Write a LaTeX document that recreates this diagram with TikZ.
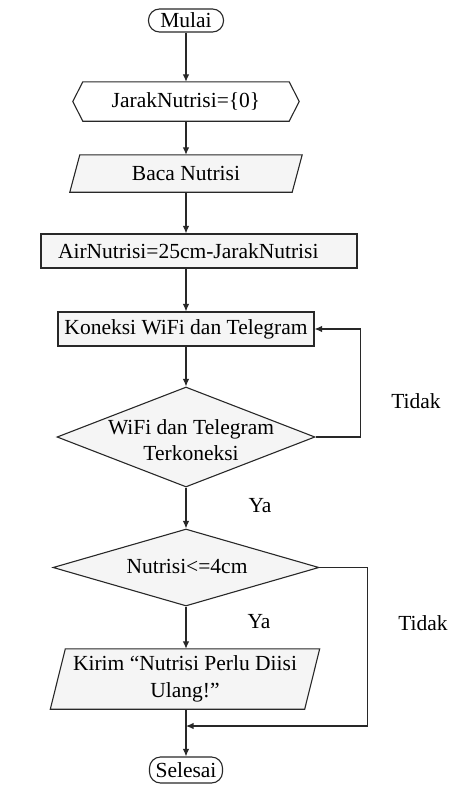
\documentclass[tikz,border=0pt]{standalone}
\usepackage{fontspec}
\setmainfont{Liberation Serif}
\usetikzlibrary{arrows.meta,shapes.geometric,backgrounds}
\definecolor{boxgray}{RGB}{245,245,245}
\definecolor{ink}{RGB}{40,40,40}
\begin{document}
\begin{tikzpicture}[x=1pt,y=-1pt,
  font=\fontsize{21.5}{26.5}\selectfont,
  outline/.style={draw=ink, line width=1.1pt},
  graybg/.style={fill=boxgray},
  term/.style={outline, fill=white, rounded corners=11pt, inner sep=0pt},
  plainbox/.style={inner sep=0pt, align=center},
  proc/.style={outline, graybg, inner sep=0pt},
  decision/.style={diamond, outline, graybg, inner sep=0pt},
  arr/.style={draw=ink, line width=1.1pt, -{Latex[length=7.5pt,width=6.5pt]}},
  link/.style={draw=ink, line width=1.1pt}
]
\useasboundingbox (0,0) rectangle (458,785);

% --- nodes ---
\node[term, minimum width=75pt, minimum height=23pt] (mulai) at (186,20.5) {Mulai};
\node[plainbox, minimum width=226pt, minimum height=39pt] (jarak) at (186,101.5) {JarakNutrisi=\{0\}};
\node[plainbox, minimum width=232pt, minimum height=37pt] (baca) at (186,173.5) {Baca Nutrisi};
\node[proc, minimum width=316pt, minimum height=34pt, text width=282pt,
      align=left, inner xsep=17pt] (air) at (199,251) {AirNutrisi=25cm-JarakNutrisi};
\node[proc, minimum width=256pt, minimum height=34pt] (kon) at (186,329) {Koneksi WiFi dan Telegram};
\node[decision, minimum width=258pt, minimum height=100pt] (cek1) at (186,437) {};
\node[align=center, inner sep=0pt] (cek1txt) at (191,440) {WiFi dan Telegram\\Terkoneksi};
\node[decision, minimum width=266pt, minimum height=77pt] (cek2) at (186,567.5) {};
\node[inner sep=0pt] (cek2txt) at (187,566) {Nutrisi<=4cm};
\node[plainbox, minimum width=269pt, minimum height=60pt] (kirim) at (185,679) {Kirim “Nutrisi Perlu Diisi\\Ulang!”};
\node[term, minimum width=73pt, minimum height=26pt] (selesai) at (186,770) {Selesai};

% --- outlines of the hexagon and the parallelograms ---
\begin{scope}[on background layer]
  \draw[outline, fill=white]
    ([xshift=10pt]jarak.north west) -- ([xshift=-10pt]jarak.north east) -- (jarak.east)
    -- ([xshift=-10pt]jarak.south east) -- ([xshift=10pt]jarak.south west) -- (jarak.west) -- cycle;
  \draw[outline, graybg]
    ([xshift=10pt]baca.north west) -- (baca.north east)
    -- ([xshift=-10pt]baca.south east) -- (baca.south west) -- cycle;
  \draw[outline, graybg]
    ([xshift=15pt]kirim.north west) -- (kirim.north east)
    -- ([xshift=-15pt]kirim.south east) -- (kirim.south west) -- cycle;
\end{scope}

% --- branch labels ---
\node (tidak1) at (416,401) {Tidak};
\node (ya1) at (260,506) {Ya};
\node (ya2) at (259,622) {Ya};
\node (tidak2) at (423,623) {Tidak};

% --- connectors ---
\draw[arr] (mulai.south) -- (mulai.south |- jarak.north);
\draw[arr] (jarak.south) -- (jarak.south |- baca.north);
\draw[arr] (baca.south) -- (baca.south |- air.north);
\draw[arr] (air.south -| kon.north) -- (kon.north);
\draw[arr] (kon.south) -- (cek1.north);
\draw[arr] (cek1.east) -- ++(45,0) |- (kon.east);
\draw[arr] (cek1.south) -- (cek2.north);
\draw[arr] (cek2.south) -- (cek2.south |- kirim.north);
\coordinate (join) at (186,726);
\draw[arr] (cek2.east) -- ++(48,0) |- (join);
\draw[arr] (kirim.south -| join) -- (selesai.north);
\end{tikzpicture}
\end{document}
